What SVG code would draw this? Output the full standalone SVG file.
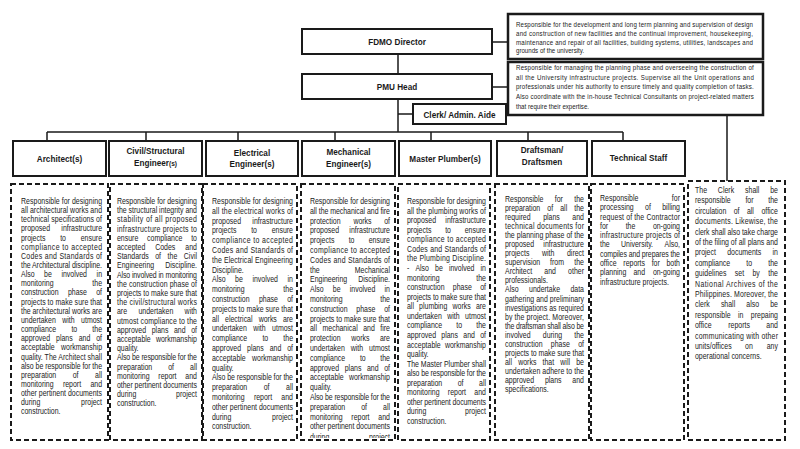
<svg xmlns="http://www.w3.org/2000/svg" width="800" height="449" viewBox="0 0 800 449">
<style>
.b{fill:#fff;stroke:#1a1a1a;stroke-width:2}
.d{fill:#fff;stroke:#1a1a1a;stroke-width:2.5}
.dash{fill:none;stroke:#1a1a1a;stroke-width:2;stroke-dasharray:5 3}
.c{fill:none;stroke:#1a1a1a;stroke-width:1.5}
.h{font-family:"Liberation Sans",Arial,sans-serif;font-weight:bold;font-size:9.3px;fill:#1a1a1a;text-anchor:middle}
.t text{font-family:"Liberation Sans",Arial,sans-serif;font-size:8.5px;fill:#222}
.s text{font-size:7.5px}
.m{text-anchor:middle}
.e{text-anchor:end}
</style>
<defs>
<clipPath id="clipMech"><rect x="301" y="184" width="94" height="254"/></clipPath>
</defs>
<rect width="800" height="449" fill="#fff"/>

<g id="connectors">
<path class="c" d="M398,54V74M398,99V132M398,114H413M47,132H623M47,132V141M146,132V141M238,132V141M335,132V141M431,132V141M528,132V141M623,132V141M492,42H508M492,87H508M727,115V181"/>
</g>

<g id="fdmo-director">
<rect class="b" x="302" y="29" width="190" height="25"/>
<text class="h" transform="translate(397,45) scale(0.88,1)">FDMO Director</text>
</g>
<g id="fdmo-desc">
<rect class="d" x="508" y="14" width="255" height="45"/>
<g class="t s" transform="translate(516,0) scale(0.82,1)">
<text y="27.5" textLength="289">Responsible for the development and long term planning and supervision of design</text>
<text y="36.1" textLength="289">and construction of new facilities and the continual improvement, housekeeping,</text>
<text y="44.7" textLength="289">maintenance and repair of all facilities, building systems, utilities, landscapes and</text>
<text y="53.3">grounds of the university.</text>
</g>
</g>

<g id="pmu-head">
<rect class="b" x="302" y="74" width="190" height="25"/>
<text class="h" transform="translate(397,90) scale(0.88,1)">PMU Head</text>
</g>
<g id="pmu-desc">
<rect class="d" x="508" y="62" width="255" height="53"/>
<g class="t s" transform="translate(516,0) scale(0.82,1)">
<text y="70" textLength="290">Responsible for managing the planning phase and overseeing the construction of</text>
<text y="79.7" textLength="290">all the University infrastructure projects. Supervise all the Unit operations and</text>
<text y="89.4" textLength="290">professionals under his authority to ensure timely and quality completion of tasks.</text>
<text y="99.1" textLength="290">Also coordinate with the in-house Technical Consultants on project-related matters</text>
<text y="108.8">that require their expertise.</text>
</g>
</g>

<g id="clerk">
<rect class="b" x="413" y="104" width="93" height="20"/>
<text class="h" transform="translate(459.5,117.5) scale(0.88,1)">Clerk/ Admin. Aide</text>
</g>

<g id="architect">
<rect class="b" x="13" y="141" width="93" height="35"/>
<text class="h" transform="translate(59.5,162.3) scale(0.88,1)">Architect(s)</text>
<rect class="dash" x="11" y="184" width="97" height="256"/>
<g class="t" transform="translate(21,0) scale(0.82,1)">
<text y="204" textLength="98.8">Responsible for designing</text>
<text y="213.2" textLength="98.8">all architectural works and</text>
<text y="222.3" textLength="98.8">technical specifications of</text>
<text y="231.5">proposed</text><text class="e" x="98.8" y="231.5">infrastructure</text>
<text y="240.6">projects</text><text class="m" x="51.3" y="240.6">to</text><text class="e" x="98.8" y="240.6">ensure</text>
<text y="249.8" textLength="98.8">compliance to accepted</text>
<text y="258.9" textLength="98.8">Codes and Standards of</text>
<text y="268.1" textLength="98.8">the Architectural discipline.</text>
<text y="277.2">Also</text><text class="m" x="32.9" y="277.2">be</text><text class="m" x="64.9" y="277.2">involved</text><text class="e" x="98.8" y="277.2">in</text>
<text y="286.4">monitoring</text><text class="e" x="98.8" y="286.4">the</text>
<text y="295.5">construction</text><text class="m" x="68.8" y="295.5">phase</text><text class="e" x="98.8" y="295.5">of</text>
<text y="304.7" textLength="98.8">projects to make sure that</text>
<text y="313.8" textLength="98.8">the architectural works are</text>
<text y="323">undertaken</text><text class="m" x="57.9" y="323">with</text><text class="e" x="98.8" y="323">utmost</text>
<text y="332.1">compliance</text><text class="m" x="65" y="332.1">to</text><text class="e" x="98.8" y="332.1">the</text>
<text y="341.3">approved</text><text class="m" x="52.9" y="341.3">plans</text><text class="m" x="77.4" y="341.3">and</text><text class="e" x="98.8" y="341.3">of</text>
<text y="350.4">acceptable</text><text class="e" x="98.8" y="350.4">workmanship</text>
<text y="359.6" textLength="98.8">quality. The Architect shall</text>
<text y="368.7" textLength="98.8">also be responsible for the</text>
<text y="377.9">preparation</text><text class="m" x="66.6" y="377.9">of</text><text class="e" x="98.8" y="377.9">all</text>
<text y="387">monitoring</text><text class="m" x="62.2" y="387">report</text><text class="e" x="98.8" y="387">and</text>
<text y="396.2" textLength="98.8">other pertinent documents</text>
<text y="405.3">during</text><text class="e" x="98.8" y="405.3">project</text>
<text y="414.5">construction.</text>
</g>
</g>

<g id="civil-engineer">
<rect class="b" x="109" y="141" width="93" height="35"/>
<text class="h" transform="translate(155.5,154) scale(0.88,1)">Civil/Structural</text>
<text class="h" transform="translate(155.5,165.6) scale(0.88,1)">Engineer<tspan font-size="7.5">(s)</tspan></text>
<rect class="dash" x="110" y="184" width="92" height="256"/>
<g class="t" transform="translate(117,0) scale(0.82,1)">
<text y="204" textLength="97.56">Responsible for designing</text>
<text y="213.2" textLength="97.56">the structural integrity and</text>
<text y="222.4" textLength="97.56">stability of all proposed</text>
<text y="231.6" textLength="97.56">infrastructure projects to</text>
<text y="240.8">ensure</text><text class="m" x="58.2" y="240.8">compliance</text><text class="e" x="97.56" y="240.8">to</text>
<text y="250">accepted</text><text class="m" x="58.9" y="250">Codes</text><text class="e" x="97.56" y="250">and</text>
<text y="259.2">Standards</text><text class="m" x="50.2" y="259.2">of</text><text class="m" x="67.6" y="259.2">the</text><text class="e" x="97.56" y="259.2">Civil</text>
<text y="268.4">Engineering</text><text class="e" x="97.56" y="268.4">Discipline.</text>
<text y="277.6" textLength="97.56">Also involved in monitoring</text>
<text y="286.8" textLength="97.56">the construction phase of</text>
<text y="296" textLength="97.56">projects to make sure that</text>
<text y="305.2" textLength="97.56">the civil/structural works</text>
<text y="314.4">are</text><text class="m" x="47.4" y="314.4">undertaken</text><text class="e" x="97.56" y="314.4">with</text>
<text y="323.6" textLength="97.56">utmost compliance to the</text>
<text y="332.8">approved</text><text class="m" x="52.5" y="332.8">plans</text><text class="m" x="76.6" y="332.8">and</text><text class="e" x="97.56" y="332.8">of</text>
<text y="342">acceptable</text><text class="e" x="97.56" y="342">workmanship</text>
<text y="351.2">quality.</text>
<text y="360.4" textLength="97.56">Also be responsible for the</text>
<text y="369.6">preparation</text><text class="m" x="66" y="369.6">of</text><text class="e" x="97.56" y="369.6">all</text>
<text y="378.8">monitoring</text><text class="m" x="61.5" y="378.8">report</text><text class="e" x="97.56" y="378.8">and</text>
<text y="388" textLength="97.56">other pertinent documents</text>
<text y="397.2">during</text><text class="e" x="97.56" y="397.2">project</text>
<text y="406.4">construction.</text>
</g>
</g>

<g id="electrical-engineer">
<rect class="b" x="206" y="141" width="92" height="35"/>
<text class="h" transform="translate(252,155.6) scale(0.88,1)">Electrical</text>
<text class="h" transform="translate(252,167.4) scale(0.88,1)">Engineer(s)</text>
<rect class="dash" x="203" y="184" width="94" height="256"/>
<g class="t" transform="translate(212,0) scale(0.82,1)">
<text y="204" textLength="98.78">Responsible for designing</text>
<text y="213.8" textLength="98.78">all the electrical works of</text>
<text y="223.6">proposed</text><text class="e" x="98.78" y="223.6">infrastructure</text>
<text y="233.4">projects</text><text class="m" x="51.3" y="233.4">to</text><text class="e" x="98.78" y="233.4">ensure</text>
<text y="243.2" textLength="98.78">compliance to accepted</text>
<text y="253" textLength="98.78">Codes and Standards of</text>
<text y="262.8" textLength="98.78">the Electrical Engineering</text>
<text y="272.6">Discipline.</text>
<text y="282.4">Also</text><text class="m" x="32.9" y="282.4">be</text><text class="m" x="64.9" y="282.4">involved</text><text class="e" x="98.78" y="282.4">in</text>
<text y="292.2">monitoring</text><text class="e" x="98.78" y="292.2">the</text>
<text y="302">construction</text><text class="m" x="68.8" y="302">phase</text><text class="e" x="98.78" y="302">of</text>
<text y="311.8" textLength="98.78">projects to make sure that</text>
<text y="321.6">all</text><text class="m" x="32.7" y="321.6">electrical</text><text class="m" x="68" y="321.6">works</text><text class="e" x="98.78" y="321.6">are</text>
<text y="331.4">undertaken</text><text class="m" x="57.9" y="331.4">with</text><text class="e" x="98.78" y="331.4">utmost</text>
<text y="341.2">compliance</text><text class="m" x="65" y="341.2">to</text><text class="e" x="98.78" y="341.2">the</text>
<text y="351">approved</text><text class="m" x="52.9" y="351">plans</text><text class="m" x="77.4" y="351">and</text><text class="e" x="98.78" y="351">of</text>
<text y="360.8">acceptable</text><text class="e" x="98.78" y="360.8">workmanship</text>
<text y="370.6">quality.</text>
<text y="380.4" textLength="98.78">Also be responsible for the</text>
<text y="390.2">preparation</text><text class="m" x="66.6" y="390.2">of</text><text class="e" x="98.78" y="390.2">all</text>
<text y="400">monitoring</text><text class="m" x="62.2" y="400">report</text><text class="e" x="98.78" y="400">and</text>
<text y="409.8" textLength="98.78">other pertinent documents</text>
<text y="419.6">during</text><text class="e" x="98.78" y="419.6">project</text>
<text y="429.4">construction.</text>
</g>
</g>

<g id="mechanical-engineer">
<rect class="b" x="302" y="141" width="93" height="35"/>
<text class="h" transform="translate(348.5,155.3) scale(0.88,1)">Mechanical</text>
<text class="h" transform="translate(348.5,167.2) scale(0.88,1)">Engineer(s)</text>
<rect class="dash" x="301" y="184" width="94" height="256"/>
<g clip-path="url(#clipMech)">
<g class="t" transform="translate(310,0) scale(0.82,1)">
<text y="204" textLength="97.56">Responsible for designing</text>
<text y="213.8" textLength="97.56">all the mechanical and fire</text>
<text y="223.6">protection</text><text class="m" x="64" y="223.6">works</text><text class="e" x="97.56" y="223.6">of</text>
<text y="233.4">proposed</text><text class="e" x="97.56" y="233.4">infrastructure</text>
<text y="243.2">projects</text><text class="m" x="50.7" y="243.2">to</text><text class="e" x="97.56" y="243.2">ensure</text>
<text y="253" textLength="97.56">compliance to accepted</text>
<text y="262.8" textLength="97.56">Codes and Standards of</text>
<text y="272.6">the</text><text class="e" x="97.56" y="272.6">Mechanical</text>
<text y="282.4">Engineering</text><text class="e" x="97.56" y="282.4">Discipline.</text>
<text y="292.2">Also</text><text class="m" x="32.5" y="292.2">be</text><text class="m" x="64.1" y="292.2">involved</text><text class="e" x="97.56" y="292.2">in</text>
<text y="302">monitoring</text><text class="e" x="97.56" y="302">the</text>
<text y="311.8">construction</text><text class="m" x="68.1" y="311.8">phase</text><text class="e" x="97.56" y="311.8">of</text>
<text y="321.6" textLength="97.56">projects to make sure that</text>
<text y="331.4">all</text><text class="m" x="36.7" y="331.4">mechanical</text><text class="m" x="72" y="331.4">and</text><text class="e" x="97.56" y="331.4">fire</text>
<text y="341.2">protection</text><text class="m" x="61.4" y="341.2">works</text><text class="e" x="97.56" y="341.2">are</text>
<text y="351">undertaken</text><text class="m" x="57.3" y="351">with</text><text class="e" x="97.56" y="351">utmost</text>
<text y="360.8">compliance</text><text class="m" x="64.4" y="360.8">to</text><text class="e" x="97.56" y="360.8">the</text>
<text y="370.6">approved</text><text class="m" x="52.5" y="370.6">plans</text><text class="m" x="76.6" y="370.6">and</text><text class="e" x="97.56" y="370.6">of</text>
<text y="380.4">acceptable</text><text class="e" x="97.56" y="380.4">workmanship</text>
<text y="390.2">quality.</text>
<text y="400" textLength="97.56">Also be responsible for the</text>
<text y="409.8">preparation</text><text class="m" x="66" y="409.8">of</text><text class="e" x="97.56" y="409.8">all</text>
<text y="419.6">monitoring</text><text class="m" x="61.5" y="419.6">report</text><text class="e" x="97.56" y="419.6">and</text>
<text y="429.4" textLength="97.56">other pertinent documents</text>
<text y="439.6">during</text><text class="e" x="97.56" y="439.6">project</text>
</g>
</g>
</g>

<g id="master-plumber">
<rect class="b" x="399" y="141" width="92" height="35"/>
<text class="h" transform="translate(445,161.7) scale(0.88,1)">Master Plumber(s)</text>
<rect class="dash" x="398" y="184" width="92" height="256"/>
<g class="t" transform="translate(407,0) scale(0.82,1)">
<text y="204" textLength="96.34">Responsible for designing</text>
<text y="213.6" textLength="96.34">all the plumbing works of</text>
<text y="223.1">proposed</text><text class="e" x="96.34" y="223.1">infrastructure</text>
<text y="232.7">projects</text><text class="m" x="50.1" y="232.7">to</text><text class="e" x="96.34" y="232.7">ensure</text>
<text y="242.3" textLength="96.34">compliance to accepted</text>
<text y="251.9" textLength="96.34">Codes and Standards of</text>
<text y="261.4" textLength="96.34">the Plumbing Discipline.</text>
<text y="271">-</text><text class="m" x="18.5" y="271">Also</text><text class="m" x="39" y="271">be</text><text class="m" x="66.7" y="271">involved</text><text class="e" x="96.34" y="271">in</text>
<text y="280.6">monitoring</text><text class="e" x="96.34" y="280.6">the</text>
<text y="290.1">construction</text><text class="m" x="67.5" y="290.1">phase</text><text class="e" x="96.34" y="290.1">of</text>
<text y="299.7" textLength="96.34">projects to make sure that</text>
<text y="309.3">all</text><text class="m" x="32" y="309.3">plumbing</text><text class="m" x="66.7" y="309.3">works</text><text class="e" x="96.34" y="309.3">are</text>
<text y="318.8">undertaken</text><text class="m" x="56.7" y="318.8">with</text><text class="e" x="96.34" y="318.8">utmost</text>
<text y="328.4">compliance</text><text class="m" x="63.7" y="328.4">to</text><text class="e" x="96.34" y="328.4">the</text>
<text y="338">approved</text><text class="m" x="52" y="338">plans</text><text class="m" x="75.7" y="338">and</text><text class="e" x="96.34" y="338">of</text>
<text y="347.6">acceptable</text><text class="e" x="96.34" y="347.6">workmanship</text>
<text y="357.1">quality.</text>
<text y="366.7" textLength="96.34">The Master Plumber shall</text>
<text y="376.3" textLength="96.34">also be responsible for the</text>
<text y="385.8">preparation</text><text class="m" x="65.4" y="385.8">of</text><text class="e" x="96.34" y="385.8">all</text>
<text y="395.4">monitoring</text><text class="m" x="60.9" y="395.4">report</text><text class="e" x="96.34" y="395.4">and</text>
<text y="405" textLength="96.34">other pertinent documents</text>
<text y="414.5">during</text><text class="e" x="96.34" y="414.5">project</text>
<text y="424.1">construction.</text>
</g>
</g>

<g id="draftsman">
<rect class="b" x="497" y="141" width="90" height="35"/>
<text class="h" transform="translate(542,153.3) scale(0.88,1)">Draftsman/</text>
<text class="h" transform="translate(542,165) scale(0.88,1)">Draftsmen</text>
<rect class="dash" x="495" y="184" width="94" height="256"/>
<g class="t" transform="translate(505,0) scale(0.82,1)">
<text y="202">Responsible</text><text class="m" x="65.6" y="202">for</text><text class="e" x="96.34" y="202">the</text>
<text y="211.1">preparation</text><text class="m" x="55.2" y="211.1">of</text><text class="m" x="71.6" y="211.1">all</text><text class="e" x="96.34" y="211.1">the</text>
<text y="220.1">required</text><text class="m" x="56.7" y="220.1">plans</text><text class="e" x="96.34" y="220.1">and</text>
<text y="229.2" textLength="96.34">technical documents for</text>
<text y="238.2" textLength="96.34">the planning phase of the</text>
<text y="247.3">proposed</text><text class="e" x="96.34" y="247.3">infrastructure</text>
<text y="256.3">projects</text><text class="m" x="52.7" y="256.3">with</text><text class="e" x="96.34" y="256.3">direct</text>
<text y="265.4">supervision</text><text class="m" x="63.5" y="265.4">from</text><text class="e" x="96.34" y="265.4">the</text>
<text y="274.4">Architect</text><text class="m" x="55" y="274.4">and</text><text class="e" x="96.34" y="274.4">other</text>
<text y="283.5">professionals.</text>
<text y="292.5">Also</text><text class="m" x="48.2" y="292.5">undertake</text><text class="e" x="96.34" y="292.5">data</text>
<text y="301.6" textLength="96.34">gathering and preliminary</text>
<text y="310.6" textLength="96.34">investigations as required</text>
<text y="319.7" textLength="96.34">by the project. Moreover,</text>
<text y="328.7" textLength="96.34">the draftsman shall also be</text>
<text y="337.8">involved</text><text class="m" x="57.9" y="337.8">during</text><text class="e" x="96.34" y="337.8">the</text>
<text y="346.8">construction</text><text class="m" x="67.5" y="346.8">phase</text><text class="e" x="96.34" y="346.8">of</text>
<text y="355.9" textLength="96.34">projects to make sure that</text>
<text y="364.9">all</text><text class="m" x="27.2" y="364.9">works</text><text class="m" x="52.9" y="364.9">that</text><text class="m" x="73.4" y="364.9">will</text><text class="e" x="96.34" y="364.9">be</text>
<text y="374" textLength="96.34">undertaken adhere to the</text>
<text y="383">approved</text><text class="m" x="58.8" y="383">plans</text><text class="e" x="96.34" y="383">and</text>
<text y="392.1">specifications.</text>
</g>
</g>

<g id="technical-staff">
<rect class="b" x="592" y="141" width="93" height="35"/>
<text class="h" transform="translate(638.5,161) scale(0.88,1)">Technical Staff</text>
<rect class="dash" x="591" y="184" width="93" height="256"/>
<g class="t" transform="translate(600,0) scale(0.82,1)">
<text y="201">Responsible</text><text class="e" x="97.56" y="201">for</text>
<text y="210.3">processing</text><text class="m" x="58.5" y="210.3">of</text><text class="e" x="97.56" y="210.3">billing</text>
<text y="219.6" textLength="97.56">request of the Contractor</text>
<text y="228.9">for</text><text class="m" x="37.2" y="228.9">the</text><text class="e" x="97.56" y="228.9">on-going</text>
<text y="238.2" textLength="97.56">infrastructure projects of</text>
<text y="247.5">the</text><text class="m" x="45.2" y="247.5">University.</text><text class="e" x="97.56" y="247.5">Also,</text>
<text y="256.8" textLength="97.56">compiles and prepares the</text>
<text y="266.1">office</text><text class="m" x="41.7" y="266.1">reports</text><text class="m" x="68" y="266.1">for</text><text class="e" x="97.56" y="266.1">both</text>
<text y="275.4">planning</text><text class="m" x="47.9" y="275.4">and</text><text class="e" x="97.56" y="275.4">on-going</text>
<text y="284.7">infrastructure projects.</text>
</g>
</g>

<g id="clerk-desc">
<rect class="dash" x="688" y="181" width="97" height="259"/>
<g class="t" transform="translate(695,0) scale(0.82,1)">
<text y="193">The</text><text class="m" x="37.8" y="193">Clerk</text><text class="m" x="69.8" y="193">shall</text><text class="e" x="101.2" y="193">be</text>
<text y="203.4">responsible</text><text class="m" x="66.4" y="203.4">for</text><text class="e" x="101.2" y="203.4">the</text>
<text y="213.8">circulation</text><text class="m" x="50.8" y="213.8">of</text><text class="m" x="67.6" y="213.8">all</text><text class="e" x="101.2" y="213.8">office</text>
<text y="224.2" textLength="101.2">documents. Likewise, the</text>
<text y="234.6" textLength="101.2">clerk shall also take charge</text>
<text y="245" textLength="101.2">of the filing of all plans and</text>
<text y="255.4">project</text><text class="m" x="60" y="255.4">documents</text><text class="e" x="101.2" y="255.4">in</text>
<text y="265.8">compliance</text><text class="m" x="66.2" y="265.8">to</text><text class="e" x="101.2" y="265.8">the</text>
<text y="276.2">guidelines</text><text class="m" x="54.2" y="276.2">set</text><text class="m" x="74.6" y="276.2">by</text><text class="e" x="101.2" y="276.2">the</text>
<text y="286.6" textLength="101.2">National Archives of the</text>
<text y="297" textLength="101.2">Philippines. Moreover, the</text>
<text y="307.4">clerk</text><text class="m" x="40.3" y="307.4">shall</text><text class="m" x="70.4" y="307.4">also</text><text class="e" x="101.2" y="307.4">be</text>
<text y="317.8">responsible</text><text class="m" x="55.8" y="317.8">in</text><text class="e" x="101.2" y="317.8">prepaing</text>
<text y="328.2">office</text><text class="m" x="53.7" y="328.2">reports</text><text class="e" x="101.2" y="328.2">and</text>
<text y="338.6" textLength="101.2">communicating with other</text>
<text y="349">units/offices</text><text class="m" x="65.8" y="349">on</text><text class="e" x="101.2" y="349">any</text>
<text y="359.4">operational concerns.</text>
</g>
</g>
</svg>
